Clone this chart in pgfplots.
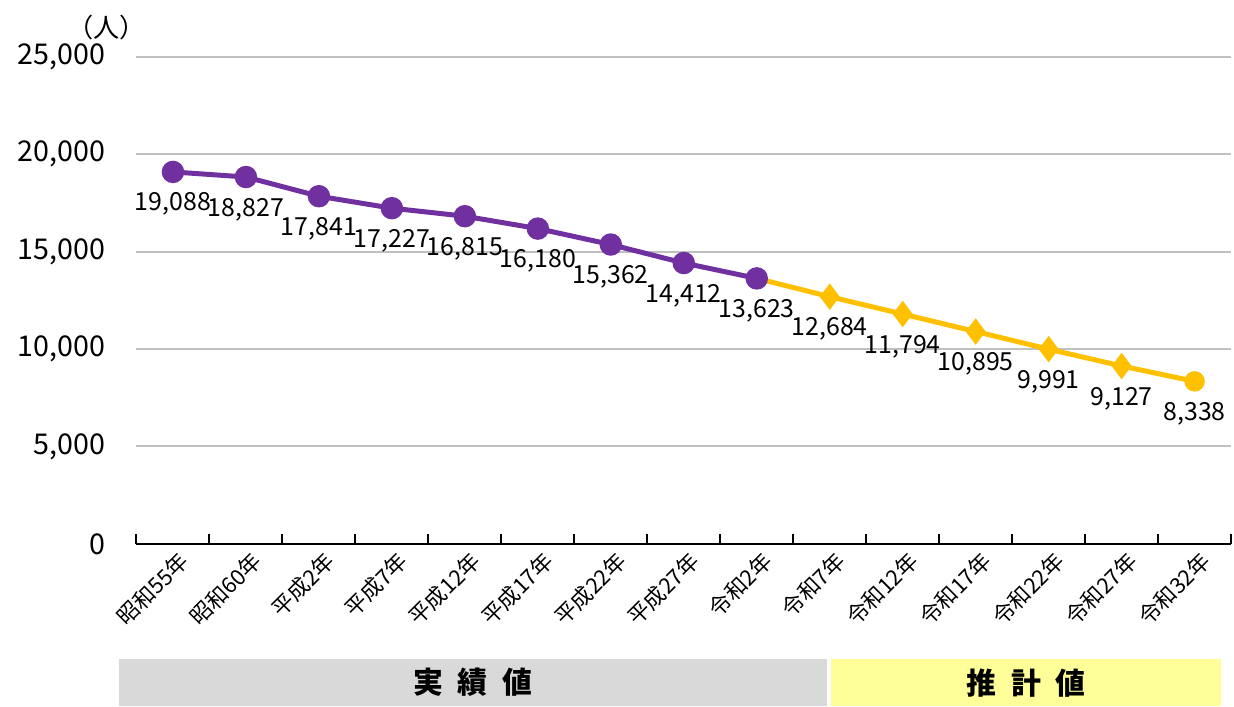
\documentclass[border=0pt]{standalone}
\usepackage{fontspec}
\setmainfont{Noto Sans CJK JP}
\usepackage{pgfplots}
\pgfplotsset{compat=1.18}

\definecolor{jisseki}{HTML}{7030A0}
\definecolor{suikei}{HTML}{FFC000}
\definecolor{boxgray}{HTML}{D9D9D9}
\definecolor{boxyellow}{HTML}{FFFF99}
\definecolor{gridgray}{HTML}{C0C0C0}

\begin{document}
\begin{tikzpicture}
\begin{axis}[
  scale only axis,
  width=439.6pt, height=195.6pt,
  xmin=-0.5, xmax=14.5,
  ymin=0, ymax=25000,
  clip=false,
  axis x line=bottom, axis y line=left,
  axis line style={-},
  y axis line style={draw=none},
  x axis line style={black, line width=0.8pt},
  ytick={0,5000,...,25000},
  scaled y ticks=false,
  ytick style={draw=none},
  ymajorgrids,
  grid style={gridgray, line width=0.8pt},
  /pgf/number format/1000 sep={,},
  /pgf/number format/assume math mode=true,
  yticklabel style={font=\fontsize{11.5}{12}\selectfont, xshift=-9pt},
  xtick={-0.5,0.5,...,14.5},
  x tick label as interval,
  xticklabels={昭和55年,昭和60年,平成2年,平成7年,平成12年,平成17年,平成22年,平成27年,令和2年,令和7年,令和12年,令和17年,令和22年,令和27年,令和32年},
  xticklabel style={font=\fontsize{8.8}{9}\selectfont, rotate=45, anchor=east, yshift=-7pt, xshift=3pt},
  xtick style={black, line width=0.8pt},
  tick align=inside,
  major tick length=4pt,
  every node near coord/.append style={black, font=\fontsize{10}{11}\selectfont, anchor=center, yshift=-13pt},
]
% 推計値 line
\addplot[suikei, line width=2pt, no marks] coordinates {
(8,13623) (9,12684) (10,11794) (11,10895) (12,9991) (13,9127) (14,8338)};
\addplot[suikei, only marks, mark=diamond*, mark size=5pt, nodes near coords] coordinates {
(9,12684) (10,11794) (11,10895) (12,9991) (13,9127)};
\addplot[suikei, only marks, mark=*, mark size=3.9pt, nodes near coords] coordinates {
(14,8338)};
% 実績値 line
\addplot[jisseki, line width=2pt, mark=*, mark size=3.5pt, nodes near coords] coordinates {
(0,19088) (1,18827) (2,17841) (3,17227) (4,16815) (5,16180) (6,15362) (7,14412) (8,13623)};

\node[font=\fontsize{10.5}{11}\selectfont] at (axis cs:-0.909,26500) {（人）};

\fill[boxgray] (axis cs:-0.745,-5930) rectangle (axis cs:8.96,-8333);
\fill[boxyellow] (axis cs:9.02,-5930) rectangle (axis cs:14.36,-8333);
\node[font=\fontsize{12}{13}\selectfont\bfseries] at (axis cs:4.11,-7130) {実\hspace{0.5em}績\hspace{0.5em}値};
\node[font=\fontsize{12}{13}\selectfont\bfseries] at (axis cs:11.69,-7130) {推\hspace{0.5em}計\hspace{0.5em}値};

\path (axis cs:-2.37,27914) rectangle (axis cs:14.5,-8333);
\end{axis}
\end{tikzpicture}
\end{document}
